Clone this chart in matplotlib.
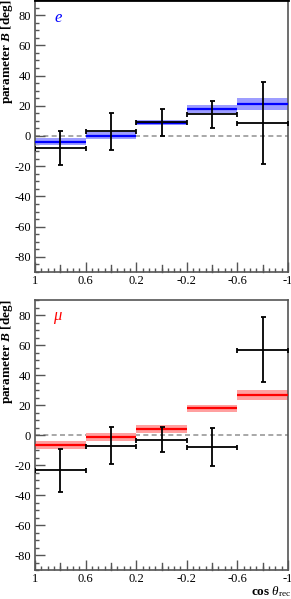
import numpy as np
import matplotlib
matplotlib.use("Agg")
import matplotlib.pyplot as plt
from matplotlib.ticker import MultipleLocator, FixedLocator

plt.rcParams['font.family'] = ['Liberation Serif', 'DejaVu Serif']
plt.rcParams['axes.unicode_minus'] = False
plt.rcParams['mathtext.fontset'] = 'custom'
plt.rcParams['mathtext.rm'] = 'Liberation Serif'
plt.rcParams['mathtext.it'] = 'Liberation Serif:italic'
plt.rcParams['mathtext.bf'] = 'Liberation Serif:bold'
plt.rcParams['mathtext.bfit'] = 'Liberation Serif:italic:bold'

# bin edges in cos(theta_rec)
edges = [1.0, 0.6, 0.2, -0.2, -0.6, -1.0]
tick_labels = ['1', '0.6', '0.2', '-0.2', '-0.6', '-1']

# electron channel
e_pred = [-3.8, 0.2, 8.8, 17.9, 21.2]
e_pred_err = [2.5, 2.5, 1.5, 2.8, 4.0]
e_data = [-8.0, 3.0, 9.0, 14.3, 8.7]
e_data_err = [11.0, 12.2, 8.9, 9.0, 27.0]

# muon channel
mu_pred = [-6.7, -1.1, 4.0, 17.8, 26.7]
mu_pred_err = [2.5, 2.5, 2.5, 2.5, 3.3]
mu_data = [-23.5, -7.0, -3.0, -8.0, 57.0]
mu_data_err = [14.2, 12.2, 8.5, 12.8, 21.8]

GRAY = '#555555'
YLABEL = r'$\mathbf{parameter}\ \mathbfit{B}\ \mathbf{[deg]}$'


def draw_panel(ax, pred, pred_err, data, data_err, line_col, band_col, tag):
    lo = np.array(edges[:-1])
    hi = np.array(edges[1:])
    cen = (lo + hi) / 2
    width = np.abs(hi - lo)
    pred = np.array(pred)
    pred_err = np.array(pred_err)
    ax.axhline(0, color='#999999', ls=(0, (3, 2)), lw=1.2, zorder=1)
    ax.bar(cen, 2 * pred_err, bottom=pred - pred_err, width=width,
           color=band_col, edgecolor='none', zorder=2)
    ax.hlines(pred, lo, hi, colors=line_col, lw=1.6, zorder=3)
    ax.errorbar(cen, data, xerr=width / 2, yerr=data_err, fmt='none',
                ecolor='black', elinewidth=1.3, capsize=1.8, capthick=1.3,
                zorder=4)
    ax.set_xlim(1, -1)
    ax.set_ylim(-90, 90)
    ax.xaxis.set_major_locator(FixedLocator(edges))
    ax.set_xticklabels(tick_labels)
    ax.xaxis.set_minor_locator(MultipleLocator(0.05))
    ax.yaxis.set_major_locator(MultipleLocator(20))
    ax.yaxis.set_minor_locator(MultipleLocator(5))
    ax.tick_params(which='both', direction='in', top=False, right=False,
                   color=GRAY, labelsize=9, width=1, pad=3)
    ax.tick_params(axis='x', which='both', pad=2)
    ax.tick_params(which='major', length=7)
    ax.tick_params(which='minor', length=3)
    # medium ticks at bin centres
    for c in cen:
        ax.plot([c, c], [-90, -85.5], color=GRAY, lw=1, zorder=5,
                clip_on=False)
    for s in ax.spines.values():
        s.set_color(GRAY)
        s.set_linewidth(1.2)
    ax.text(0.09, 0.934, tag, transform=ax.transAxes, color=line_col,
            fontsize=12, style='italic', ha='center', va='center')


fig = plt.figure(figsize=(2.91, 5.99), dpi=100)
ax1 = fig.add_axes([0.120, 0.546, 0.870, 0.454])
ax2 = fig.add_axes([0.120, 0.048, 0.870, 0.451])

draw_panel(ax1, e_pred, e_pred_err, e_data, e_data_err,
           '#0000ff', '#9d9dff', 'e')
ax1.spines['top'].set_color('black')
ax1.spines['top'].set_linewidth(2)
draw_panel(ax2, mu_pred, mu_pred_err, mu_data, mu_data_err,
           '#ff0000', '#ffa0a0', r'$\mu$')

fig.text(7 / 291, 1.0, YLABEL, rotation=90, ha='center', va='top',
         fontsize=9.5)
fig.text(7 / 291, 1 - 300 / 599, YLABEL, rotation=90, ha='center', va='top',
         fontsize=9.5)
fig.text(1.0, 0.0, r'$\mathbf{cos}\ \mathit{\theta}_{\mathrm{rec}}$',
         ha='right', va='bottom', fontsize=9.5)

fig.savefig('out.png', dpi=100)
